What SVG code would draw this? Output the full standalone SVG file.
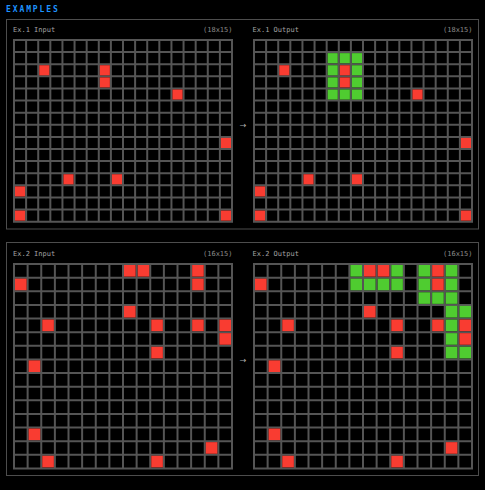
<svg xmlns="http://www.w3.org/2000/svg" xmlns:xlink="http://www.w3.org/1999/xlink" width="485" height="490" viewBox="0 0 485 490">
<style>
.lbl{font-family:"DejaVu Sans Mono","Liberation Mono",monospace;font-size:7px;fill:#a3a3a3}
.dim{font-family:"DejaVu Sans Mono","Liberation Mono",monospace;font-size:7px;fill:#8a8a8a;text-anchor:end}
.ttl{font-family:"DejaVu Sans Mono","Liberation Mono",monospace;font-size:8px;font-weight:bold;fill:#1e93ff;letter-spacing:1.9px}
.arr{font-family:"DejaVu Sans",sans-serif;font-size:8px;fill:#aaaaaa;text-anchor:middle}
.panel{fill:#000;stroke:#4d4d4d;stroke-width:1}
.gl{stroke:#555;stroke-width:2;fill:none}
.r{fill:#f93c31}
.g{fill:#4fcc30}
</style>
<defs>
<g id="grid18">
<rect width="220" height="183.667" fill="#000"/>
<path class="gl" d="M1 0V183.667M13.111 0V183.667M25.222 0V183.667M37.333 0V183.667M49.444 0V183.667M61.556 0V183.667M73.667 0V183.667M85.778 0V183.667M97.889 0V183.667M110 0V183.667M122.111 0V183.667M134.222 0V183.667M146.333 0V183.667M158.444 0V183.667M170.556 0V183.667M182.667 0V183.667M194.778 0V183.667M206.889 0V183.667M219 0V183.667M0 1H220M0 13.111H220M0 25.222H220M0 37.333H220M0 49.444H220M0 61.556H220M0 73.667H220M0 85.778H220M0 97.889H220M0 110H220M0 122.111H220M0 134.222H220M0 146.333H220M0 158.444H220M0 170.556H220M0 182.667H220"/>
</g>
<g id="grid16">
<rect width="220" height="206.375" fill="#000"/>
<path class="gl" d="M1 0V206.375M14.625 0V206.375M28.25 0V206.375M41.875 0V206.375M55.5 0V206.375M69.125 0V206.375M82.75 0V206.375M96.375 0V206.375M110 0V206.375M123.625 0V206.375M137.25 0V206.375M150.875 0V206.375M164.5 0V206.375M178.125 0V206.375M191.75 0V206.375M205.375 0V206.375M219 0V206.375M0 1H220M0 14.625H220M0 28.25H220M0 41.875H220M0 55.5H220M0 69.125H220M0 82.75H220M0 96.375H220M0 110H220M0 123.625H220M0 137.25H220M0 150.875H220M0 164.5H220M0 178.125H220M0 191.75H220M0 205.375H220"/>
</g>
<rect id="c18" width="0.83486" height="0.83486"/>
<rect id="c16" width="0.85321" height="0.85321"/>
</defs>
<rect width="485" height="490" fill="#000"/>
<text class="ttl" x="6" y="12">EXAMPLES</text>

<g id="example1">
<rect class="panel" x="6.5" y="19.5" width="472" height="209.5"/>
<g id="ex1-input">
<text class="lbl" x="13" y="32">Ex.1 Input</text>
<text class="dim" x="232.5" y="32">(18x15)</text>
<g transform="translate(13,39)">
<use href="#grid18"/>
<g transform="translate(2,2) scale(12.1111)">
<use href="#c18" class="r" x="2" y="2"/><use href="#c18" class="r" x="7" y="2"/><use href="#c18" class="r" x="7" y="3"/><use href="#c18" class="r" x="13" y="4"/><use href="#c18" class="r" x="17" y="8"/><use href="#c18" class="r" x="4" y="11"/><use href="#c18" class="r" x="8" y="11"/><use href="#c18" class="r" x="0" y="12"/><use href="#c18" class="r" x="0" y="14"/><use href="#c18" class="r" x="17" y="14"/>
</g>
</g>
</g>
<g id="ex1-output">
<text class="lbl" x="252.5" y="32">Ex.1 Output</text>
<text class="dim" x="472.5" y="32">(18x15)</text>
<g transform="translate(253,39)">
<use href="#grid18"/>
<g transform="translate(2,2) scale(12.1111)">
<use href="#c18" class="g" x="6" y="1"/><use href="#c18" class="g" x="7" y="1"/><use href="#c18" class="g" x="8" y="1"/>
<use href="#c18" class="g" x="6" y="2"/><use href="#c18" class="r" x="7" y="2"/><use href="#c18" class="g" x="8" y="2"/>
<use href="#c18" class="g" x="6" y="3"/><use href="#c18" class="r" x="7" y="3"/><use href="#c18" class="g" x="8" y="3"/>
<use href="#c18" class="g" x="6" y="4"/><use href="#c18" class="g" x="7" y="4"/><use href="#c18" class="g" x="8" y="4"/>
<use href="#c18" class="r" x="2" y="2"/><use href="#c18" class="r" x="13" y="4"/><use href="#c18" class="r" x="17" y="8"/><use href="#c18" class="r" x="4" y="11"/><use href="#c18" class="r" x="8" y="11"/><use href="#c18" class="r" x="0" y="12"/><use href="#c18" class="r" x="0" y="14"/><use href="#c18" class="r" x="17" y="14"/>
</g>
</g>
</g>
<text class="arr" x="243" y="128">→</text>
</g>

<g id="example2">
<rect class="panel" x="6.5" y="242.5" width="472" height="233"/>
<g id="ex2-input">
<text class="lbl" x="13" y="256">Ex.2 Input</text>
<text class="dim" x="232.5" y="256">(16x15)</text>
<g transform="translate(13,263)">
<use href="#grid16"/>
<g transform="translate(2,2) scale(13.625)">
<use href="#c16" class="r" x="8" y="0"/><use href="#c16" class="r" x="9" y="0"/><use href="#c16" class="r" x="13" y="0"/><use href="#c16" class="r" x="0" y="1"/><use href="#c16" class="r" x="13" y="1"/><use href="#c16" class="r" x="8" y="3"/><use href="#c16" class="r" x="2" y="4"/><use href="#c16" class="r" x="10" y="4"/><use href="#c16" class="r" x="13" y="4"/><use href="#c16" class="r" x="15" y="4"/><use href="#c16" class="r" x="15" y="5"/><use href="#c16" class="r" x="10" y="6"/><use href="#c16" class="r" x="1" y="7"/><use href="#c16" class="r" x="1" y="12"/><use href="#c16" class="r" x="14" y="13"/><use href="#c16" class="r" x="2" y="14"/><use href="#c16" class="r" x="10" y="14"/>
</g>
</g>
</g>
<g id="ex2-output">
<text class="lbl" x="252.5" y="256">Ex.2 Output</text>
<text class="dim" x="472.5" y="256">(16x15)</text>
<g transform="translate(253,263)">
<use href="#grid16"/>
<g transform="translate(2,2) scale(13.625)">
<use href="#c16" class="g" x="7" y="0"/><use href="#c16" class="g" x="10" y="0"/><use href="#c16" class="g" x="12" y="0"/><use href="#c16" class="g" x="14" y="0"/>
<use href="#c16" class="g" x="7" y="1"/><use href="#c16" class="g" x="8" y="1"/><use href="#c16" class="g" x="9" y="1"/><use href="#c16" class="g" x="10" y="1"/><use href="#c16" class="g" x="12" y="1"/><use href="#c16" class="g" x="14" y="1"/>
<use href="#c16" class="g" x="12" y="2"/><use href="#c16" class="g" x="13" y="2"/><use href="#c16" class="g" x="14" y="2"/>
<use href="#c16" class="g" x="14" y="3"/><use href="#c16" class="g" x="15" y="3"/>
<use href="#c16" class="g" x="14" y="4"/><use href="#c16" class="g" x="14" y="5"/>
<use href="#c16" class="g" x="14" y="6"/><use href="#c16" class="g" x="15" y="6"/>
<use href="#c16" class="r" x="8" y="0"/><use href="#c16" class="r" x="9" y="0"/><use href="#c16" class="r" x="13" y="0"/><use href="#c16" class="r" x="0" y="1"/><use href="#c16" class="r" x="13" y="1"/><use href="#c16" class="r" x="8" y="3"/><use href="#c16" class="r" x="2" y="4"/><use href="#c16" class="r" x="10" y="4"/><use href="#c16" class="r" x="13" y="4"/><use href="#c16" class="r" x="15" y="4"/><use href="#c16" class="r" x="15" y="5"/><use href="#c16" class="r" x="10" y="6"/><use href="#c16" class="r" x="1" y="7"/><use href="#c16" class="r" x="1" y="12"/><use href="#c16" class="r" x="14" y="13"/><use href="#c16" class="r" x="2" y="14"/><use href="#c16" class="r" x="10" y="14"/>
</g>
</g>
</g>
<text class="arr" x="243" y="363">→</text>
</g>
</svg>
